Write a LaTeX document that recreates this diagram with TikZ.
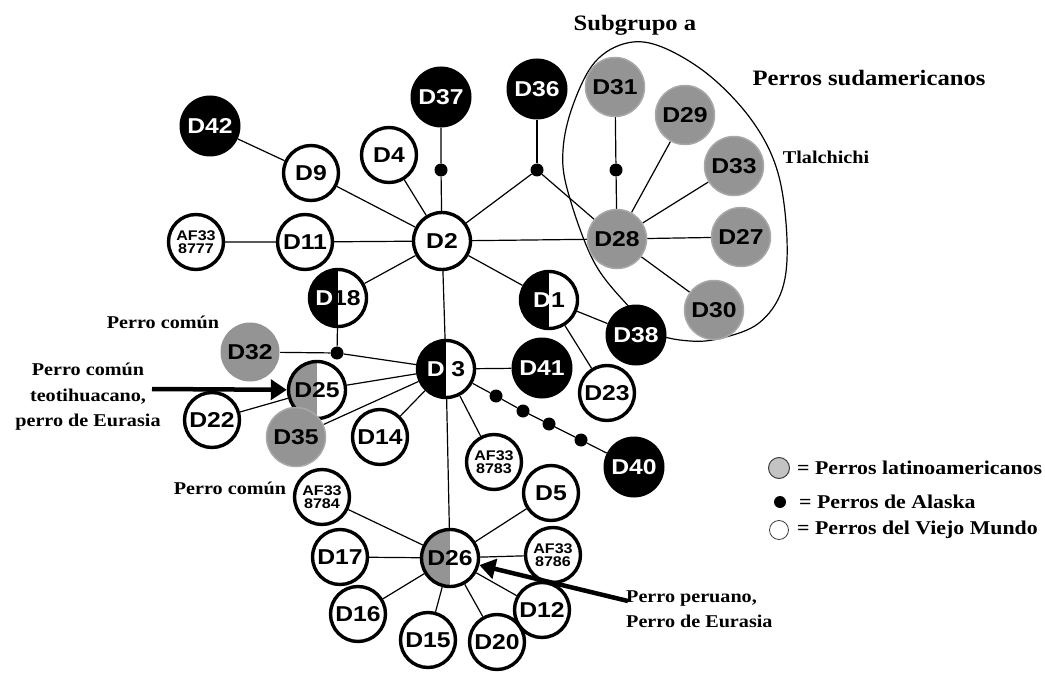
\documentclass[tikz,border=0pt]{standalone}
\usepackage{fontspec}
\usetikzlibrary{arrows.meta,backgrounds}
\newfontfamily\labf{Liberation Sans Bold}[FakeStretch=1.15]
\newfontfamily\serf{Liberation Serif Bold}[FakeStretch=1.12]
\definecolor{dgray}{RGB}{148,148,148}
\definecolor{dgrayb}{RGB}{168,168,168}
\definecolor{lgray}{RGB}{195,195,195}
\tikzset{
  lab/.style={font=\labf\fontsize{21.5}{22}\selectfont},
  wn/.style={circle, draw=black, line width=3.4pt, fill=white, minimum size=55pt, inner sep=0pt, lab},
  bn/.style={circle, fill=black, text=white, minimum size=61pt, inner sep=0pt, lab},
  gn/.style={circle, fill=dgray, draw=dgrayb, line width=1.5pt, minimum size=59pt, inner sep=0pt, lab},
  hb/.style={wn, minimum size=57pt, path picture={\fill[black] (path picture bounding box.south west) rectangle (path picture bounding box.north);}},
  hg/.style={wn, minimum size=57pt, path picture={\fill[dgray] (path picture bounding box.south west) rectangle (path picture bounding box.north);}},
  af/.style={wn, font=\labf\fontsize{14}{13}\selectfont, align=center},
  jd/.style={circle, fill=black, minimum size=13pt, inner sep=0pt},
  ed/.style={line width=1.2pt},
  lbl/.style={font=\serf\fontsize{18}{25.5}\selectfont, align=center, inner sep=0pt},
  big/.style={font=\serf\fontsize{22}{24}\selectfont, inner sep=0pt},
  leg/.style={font=\serf\fontsize{19.5}{22}\selectfont, anchor=west, inner sep=0pt},
  bigarrow/.style={line width=4.5pt, -{Triangle[length=16pt,width=20pt]}}
}
\begin{document}
\begin{tikzpicture}[x=1pt,y=-1pt]
\useasboundingbox (0,0) rectangle (1045,674);
% nodes
\node[bn] (D42) at (210,126) {D42};
\node[bn] (D37) at (441,97) {D37};
\node[bn] (D36) at (537,89) {D36};
\node[gn] (D31) at (615,87) {D31};
\node[gn] (D29) at (685,115) {D29};
\node[gn] (D33) at (734,166) {D33};
\node[gn] (D28) at (617,239) {D28};
\node[gn] (D27) at (741,237) {D27};
\node[gn] (D30) at (714,310) {D30};
\node[bn] (D38) at (636,335) {D38};
\node[wn] (D9) at (311,173) {D9};
\node[wn] (D4) at (389,155) {D4};
\node[wn, minimum size=57pt] (D2) at (442,241) {D2};
\node[wn] (D11) at (305,242) {D11};
\node[af] (A77) at (196,242) {AF33\\8777};
\node[hb] (D18) at (338,298) {{\color{white}D}18};
\node[hb] (D1) at (549,300) {{\color{white}D}1};
\node[wn] (D23) at (607,393) {D23};
\node[bn] (D41) at (542,368) {D41};
\node[gn, draw=none] (D32) at (250,352) {D32};
\node[hb] (D3) at (446,369) {{\color{white}D} 3};
\node[hg] (D25) at (317,390) {D25};
\node[wn] (D22) at (212,420) {D22};
\node[gn] (D35) at (296,437) {D35};
\node[wn] (D14) at (380,437) {D14};
\node[af] (A83) at (494,462) {AF33\\8783};
\node[bn] (D40) at (634,467) {D40};
\node[wn] (D5) at (551,493) {D5};
\node[af] (A84) at (322,497) {AF33\\8784};
\node[hg] (D26) at (450,558) {D26};
\node[wn] (D17) at (340,557) {D17};
\node[af] (A86) at (553,555) {AF33\\8786};
\node[wn] (D16) at (358,614) {D16};
\node[wn] (D15) at (428,640) {D15};
\node[wn] (D20) at (497,642) {D20};
\node[wn] (D12) at (542,610) {D12};
% junction dots
\node[jd] (j1) at (441,170) {};
\node[jd] (j2) at (537,170) {};
\node[jd] (j3) at (616,170) {};
\node[jd] (j4) at (337,353) {};
\node[jd] (k1) at (496,396) {};
\node[jd] (k2) at (523,411) {};
\node[jd] (k3) at (549,424) {};
\node[jd] (k4) at (581,440) {};
% edges
\begin{scope}[on background layer]
\draw[line width=1.2pt] plot[smooth cycle, tension=0.6] coordinates {(627,43) (662,47) (710,76) (753,122) (778,173) (787,240) (782,290) (759,323) (722,338) (690,341) (655,333) (630,308) (594,262) (568,192) (563,150) (573,105) (595,62)};
\draw[ed] (D42) -- (D9) -- (D2);
\draw[ed] (D4) -- (D2);
\draw[ed] (D37) -- (j1) -- (D2);
\draw[ed] (D36) -- (j2);
\draw[ed] (j2) -- (D2);
\draw[ed] (j2) -- (D28);
\draw[ed] (A77) -- (D11) -- (D2);
\draw[ed] (D2) -- (D28);
\draw[ed] (D18) -- (D2);
\draw[ed] (D2) -- (D1);
\draw[ed] (D2) -- (D3);
\draw[ed] (D1) -- (D38);
\draw[ed] (D1) -- (D23);
\draw[ed] (D31) -- (j3) -- (D28);
\draw[ed] (D28) -- (D29);
\draw[ed] (D28) -- (D33);
\draw[ed] (D28) -- (D27);
\draw[ed] (D28) -- (D30);
\draw[ed] (D18) -- (j4);
\draw[ed] (D32) -- (j4) -- (D3);
\draw[ed] (D25) -- (D3);
\draw[ed] (D22) -- (D25);
\draw[ed] (D35) -- (D3);
\draw[ed] (D14) -- (D3);
\draw[ed] (A83) -- (D3);
\draw[ed] (D3) -- (D41);
\draw[ed] (D3) -- (k1) -- (k2) -- (k3) -- (k4) -- (D40);
\draw[ed] (D3) -- (D26);
\draw[ed] (D26) -- (A84);
\draw[ed] (D26) -- (D5);
\draw[ed] (D26) -- (D17);
\draw[ed] (D26) -- (A86);
\draw[ed] (D26) -- (D16);
\draw[ed] (D26) -- (D15);
\draw[ed] (D26) -- (D20);
\draw[ed] (D26) -- (D12);
\end{scope}
% arrows
\coordinate (t1) at (152,389);
\coordinate (t2) at (628,601);
\draw[bigarrow] (t1) -- (D25);
\draw[bigarrow] (t2) -- (D26);
% labels
\node[big] (subg) at (635,25) {Subgrupo a};
\node[big] (sud) at (869,78) {Perros sudamericanos};
\node[lbl] (tla) at (826,157) {Tlalchichi};
\node[lbl] (pc1) at (163,322) {Perro común};
\node[lbl] (teo) at (88,397) {Perro común\\teotihuacano,\\perro de Eurasia};
\node[lbl] (pc2) at (230,488) {Perro común};
\node[lbl, align=left, anchor=west] (per) at (626,609) {Perro peruano,\\Perro de Eurasia};
% legend
\node[circle, fill=lgray, draw=black!75, line width=1pt, minimum size=21pt, inner sep=0pt] (lg1) at (779,468) {};
\node[leg] (lt1) at (797,468) {= Perros latinoamericanos};
\node[circle, fill=black, minimum size=12pt, inner sep=0pt] (lg2) at (780,502) {};
\node[leg] (lt2) at (799,502) {= Perros de Alaska};
\node[circle, fill=white, draw=black!75, line width=0.8pt, minimum size=19pt, inner sep=0pt] (lg3) at (779,530) {};
\node[leg] (lt3) at (797,530) {= Perros del Viejo Mundo};
\end{tikzpicture}
\end{document}
